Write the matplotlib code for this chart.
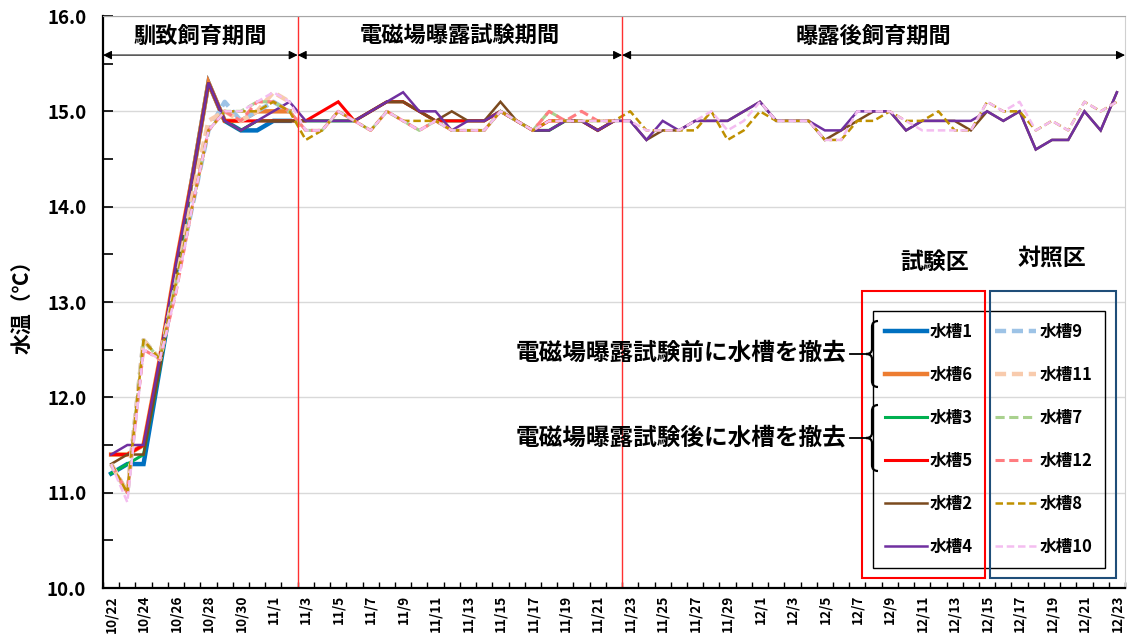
import matplotlib
matplotlib.use('Agg')
import matplotlib.pyplot as plt
from matplotlib.path import Path
from matplotlib.patches import PathPatch, Rectangle
from matplotlib.lines import Line2D
import pandas as pd

plt.rcParams['font.family'] = ['Noto Sans CJK JP', 'DejaVu Sans']

W, H = 1127, 637

days = pd.date_range('2023-10-22', '2023-12-23')
date_labels = [f'{d.month}/{d.day}' for d in days]

# 曝露試験前に撤去
t1 = [11.2, 11.3, 11.3, 12.3, 13.3, 14.3, 15.3, 14.9, 14.8, 14.8, 14.9, 14.9]
t6 = [11.4, 11.4, 11.5, 12.4, 13.4, 14.3, 15.3, 14.9, 14.9, 15.0, 15.0, 15.0]
t9 = [11.3, 11.0, 12.6, 12.4, 13.2, 14.0, 14.8, 15.1, 14.9, 15.0, 15.1, 15.0]
t11 = [11.3, 11.0, 12.6, 12.4, 13.2, 14.1, 14.9, 15.0, 14.9, 15.0, 15.2, 15.1]

# 曝露試験後に撤去
t3 = [11.2, 11.3, 11.4, 12.3, 13.3, 14.3, 15.3, 14.9, 14.8, 14.9, 14.9, 14.9,
      14.9, 14.9, 14.9, 14.9, 15.0, 15.1, 15.1, 15.0, 14.9, 14.9, 14.9, 14.9,
      15.0, 14.9, 14.8, 14.8, 14.9, 14.9, 14.8, 14.9]
t5 = [11.4, 11.4, 11.5, 12.4, 13.4, 14.3, 15.3, 14.9, 14.9, 14.9, 14.9, 14.9,
      14.9, 15.0, 15.1, 14.9, 15.0, 15.1, 15.1, 15.0, 14.9, 14.9, 14.9, 14.9,
      15.0, 14.9, 14.8, 14.9, 14.9, 14.9, 14.8, 14.9]
t7 = [11.3, 11.0, 12.6, 12.4, 13.2, 14.0, 14.8, 15.0, 15.0, 15.1, 15.1, 15.0,
      14.8, 14.8, 15.0, 14.9, 14.8, 15.0, 14.9, 14.8, 14.9, 14.8, 14.8, 14.8,
      15.0, 14.9, 14.8, 15.0, 14.9, 14.9, 14.9, 14.9]
t12 = [11.3, 11.0, 12.5, 12.4, 13.1, 14.0, 14.8, 15.0, 14.9, 15.1, 15.1, 15.0,
       14.8, 14.8, 15.0, 14.9, 14.8, 15.0, 14.9, 14.8, 14.9, 14.8, 14.8, 14.8,
       15.0, 14.9, 14.8, 15.0, 14.9, 15.0, 14.9, 14.9]

# 最後まで飼育
t2 = [11.3, 11.4, 11.4, 12.3, 13.3, 14.3, 15.3, 14.9, 14.8, 14.9, 14.9, 14.9,
      14.9, 14.9, 14.9, 14.9, 15.0, 15.1, 15.1, 15.0, 14.9, 15.0, 14.9, 14.9,
      15.1, 14.9, 14.8, 14.8, 14.9, 14.9, 14.8, 14.9,
      14.9, 14.7, 14.8, 14.8, 14.9, 14.9, 14.9, 15.0, 15.1, 14.9, 14.9, 14.9,
      14.7, 14.8, 14.9, 15.0, 15.0, 14.8, 14.9, 14.9, 14.9, 14.8, 15.0, 14.9,
      15.0, 14.6, 14.7, 14.7, 15.0, 14.8, 15.2]
t4 = [11.4, 11.5, 11.5, 12.4, 13.4, 14.3, 15.3, 14.9, 14.8, 14.9, 15.0, 15.1,
      14.9, 14.9, 14.9, 14.9, 15.0, 15.1, 15.2, 15.0, 15.0, 14.8, 14.9, 14.9,
      15.0, 14.9, 14.8, 14.8, 14.9, 14.9, 14.8, 14.9,
      14.9, 14.7, 14.9, 14.8, 14.9, 14.9, 14.9, 15.0, 15.1, 14.9, 14.9, 14.9,
      14.8, 14.8, 15.0, 15.0, 15.0, 14.8, 14.9, 14.9, 14.9, 14.9, 15.0, 14.9,
      15.0, 14.6, 14.7, 14.7, 15.0, 14.8, 15.2]
t8 = [11.3, 11.0, 12.6, 12.4, 13.2, 14.0, 14.8, 15.0, 15.0, 15.0, 15.1, 15.0,
      14.7, 14.8, 15.0, 14.9, 14.8, 15.0, 14.9, 14.9, 14.9, 14.8, 14.8, 14.8,
      15.0, 14.9, 14.8, 14.9, 14.9, 14.9, 14.9, 14.9,
      15.0, 14.8, 14.8, 14.8, 14.8, 15.0, 14.7, 14.8, 15.0, 14.9, 14.9, 14.9,
      14.7, 14.7, 14.9, 14.9, 15.0, 14.9, 14.9, 15.0, 14.8, 14.8, 15.1, 15.0,
      15.0, 14.8, 14.9, 14.8, 15.1, 15.0, 15.1]
t10 = [11.3, 10.9, 12.5, 12.4, 13.1, 14.0, 14.8, 15.0, 15.0, 15.1, 15.2, 15.1,
       14.8, 14.8, 15.0, 14.9, 14.8, 15.0, 14.9, 14.8, 14.9, 14.8, 14.8, 14.8,
       15.0, 14.9, 14.8, 14.9, 14.9, 14.9, 14.9, 14.9,
       14.9, 14.8, 14.8, 14.8, 14.9, 15.0, 14.8, 14.9, 15.1, 14.9, 14.9, 14.9,
       14.7, 14.7, 15.0, 15.0, 15.0, 14.9, 14.8, 14.8, 14.8, 14.8, 15.1, 15.0,
       15.1, 14.8, 14.9, 14.8, 15.1, 15.0, 15.1]

# 水槽名, データ, 色, 線幅, 破線
series = [
    ('水槽1', t1, '#0070C0', 3.2, None),
    ('水槽6', t6, '#ED7D31', 3.2, None),
    ('水槽3', t3, '#00B050', 2.2, None),
    ('水槽5', t5, '#FF0000', 2.2, None),
    ('水槽2', t2, '#7B4A1E', 1.8, None),
    ('水槽4', t4, '#7030A0', 1.8, None),
    ('水槽9', t9, '#9DC3E6', 3.2, (2.5, 1.3)),
    ('水槽11', t11, '#F8CBAD', 3.2, (2.5, 1.3)),
    ('水槽7', t7, '#A9D18E', 2.2, (3.0, 1.5)),
    ('水槽12', t12, '#FF7C80', 2.2, (3.0, 1.5)),
    ('水槽8', t8, '#BF9000', 1.8, (3.0, 1.5)),
    ('水槽10', t10, '#F4BDF0', 1.8, (3.0, 1.5)),
]

phases = [('馴致飼育期間', -0.5, 11.5),
          ('電磁場曝露試験期間', 11.5, 31.5),
          ('曝露後飼育期間', 31.5, 62.5)]


def px(x, y):
    return x / W, 1 - y / H


def brace(fig, x, y0, y1):
    ym = (y0 + y1) / 2
    pts = [(x + 6, y0), (x, y0), (x, y0 + 6), (x, ym - 5), (x, ym), (x - 6, ym),
           (x, ym), (x, ym + 5), (x, y1 - 6), (x, y1), (x + 6, y1)]
    codes = [Path.MOVETO, Path.CURVE3, Path.CURVE3, Path.LINETO, Path.CURVE3,
             Path.CURVE3, Path.CURVE3, Path.CURVE3, Path.LINETO, Path.CURVE3,
             Path.CURVE3]
    p = Path([px(*q) for q in pts], codes)
    fig.patches.append(PathPatch(p, fill=False, lw=1.6, ec='black',
                                 transform=fig.transFigure))
    fig.lines.append(Line2D([px(850, ym)[0], px(x - 6, ym)[0]],
                            [px(850, ym)[1], px(x - 6, ym)[1]],
                            color='black', lw=1.3, transform=fig.transFigure))


def main():
    fig = plt.figure(figsize=(W / 100, H / 100), dpi=100)
    ax = fig.add_axes([103 / W, 1 - 588 / H, 1022 / W, 572 / H])

    handles = []
    for name, vals, color, lw, dash in series:
        line, = ax.plot(range(len(vals)), vals, color=color, lw=lw, label=name,
                        solid_joinstyle='miter')
        if dash:
            line.set_dashes(dash)
        handles.append(line)

    ax.set_xlim(-0.5, 62.5)
    ax.set_ylim(10, 16)
    ax.set_yticks([10, 11, 12, 13, 14, 15, 16])
    ax.set_yticklabels([f'{v:.1f}' for v in [10, 11, 12, 13, 14, 15, 16]],
                       fontsize=13.5, fontweight='bold')
    ax.set_yticks([10.5, 11.5, 12.5, 13.5, 14.5, 15.5], minor=True)
    ax.tick_params(axis='y', which='both', direction='in', length=7, width=1.2, pad=12)
    ax.grid(axis='y', which='major', color='#D9D9D9', lw=1)
    ax.set_axisbelow(True)

    ax.set_xticks(range(0, 63, 2))
    ax.set_xticklabels(date_labels[::2], rotation=90, fontsize=9.8, fontweight='bold')
    ax.set_xticks([i - 0.5 for i in range(64)], minor=True)
    ax.tick_params(axis='x', which='major', length=0, pad=5)
    ax.tick_params(axis='x', which='minor', direction='in', length=4, width=1)

    for s in ['left', 'bottom']:
        ax.spines[s].set_linewidth(1.6)
    ax.spines['top'].set_color('#A6A6A6')
    ax.spines['right'].set_color('#D0D0D0')

    ax.set_ylabel('水温（℃）', fontsize=15, fontweight='bold', labelpad=10)

    for x in [11.5, 31.5]:
        ax.axvline(x, color='#FF3030', lw=1.0)

    for label, a, b in phases:
        ax.annotate('', xy=(a, 15.59), xytext=(b, 15.59),
                    arrowprops=dict(arrowstyle='<|-|>', color='black', lw=0.8,
                                    mutation_scale=13, shrinkA=0, shrinkB=0))
        ax.text((a + b) / 2, 15.79, label, ha='center', va='center',
                fontsize=16, fontweight='bold')

    leg = ax.legend(handles=handles, ncol=2, loc='upper left',
                    bbox_to_anchor=px(873, 311), bbox_transform=fig.transFigure,
                    borderaxespad=0, fancybox=False, framealpha=1,
                    edgecolor='black', handlelength=2.5, handletextpad=0.2,
                    columnspacing=1.3, labelspacing=1.5, borderpad=0.72,
                    prop={'size': 12, 'weight': 'bold'})
    leg.get_frame().set_linewidth(1.0)
    leg.get_frame().set_facecolor('none')

    fig.patches.append(Rectangle(px(862, 578), 123 / W, 287 / H, fill=False,
                                 ec='#FF0000', lw=1.5, transform=fig.transFigure))
    fig.patches.append(Rectangle(px(990, 578), 126 / W, 287 / H, fill=False,
                                 ec='#1F4E79', lw=1.5, transform=fig.transFigure))
    fig.text(*px(935, 262), '試験区', ha='center', va='center', fontsize=16.5,
             fontweight='bold')
    fig.text(*px(1052, 258), '対照区', ha='center', va='center', fontsize=16.5,
             fontweight='bold')

    brace(fig, 872, 321, 387)
    brace(fig, 872, 405, 471)
    fig.text(*px(846, 353), '電磁場曝露試験前に水槽を撤去', ha='right', va='center',
             fontsize=17, fontweight='bold')
    fig.text(*px(846, 438), '電磁場曝露試験後に水槽を撤去', ha='right', va='center',
             fontsize=17, fontweight='bold')

    fig.savefig('out.png', dpi=100)


if __name__ == '__main__':
    main()
